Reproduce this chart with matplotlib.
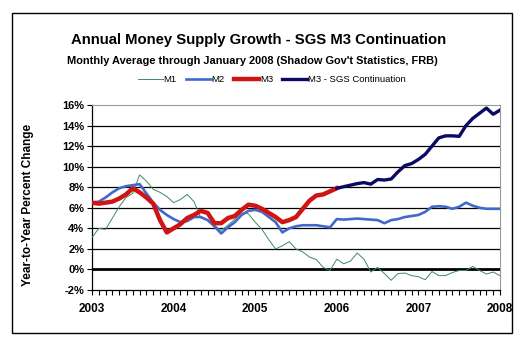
import numpy as np
import matplotlib.pyplot as plt
from matplotlib.patches import Rectangle
from matplotlib.ticker import FixedLocator, FuncFormatter

plt.rcParams['font.family'] = ['Liberation Sans', 'DejaVu Sans']

# monthly values, Jan 2003 .. Jan 2008
m1 = [3.1, 4.0, 3.9, 5.0, 6.1, 7.0, 7.4, 9.2, 8.6, 7.8, 7.5, 7.1,
      6.5, 6.8, 7.3, 6.6, 5.0, 4.8, 4.3, 3.8, 4.3, 4.9, 5.5, 5.4,
      4.6, 3.9, 2.9, 2.0, 2.3, 2.7, 2.0, 1.7, 1.2, 0.95, 0.2, -0.1,
      1.0, 0.55, 0.8, 1.6, 1.0, -0.25, 0.2, -0.4, -1.05, -0.4, -0.35, -0.6,
      -0.7, -1.0, -0.2, -0.6, -0.6, -0.3, -0.1, -0.1, 0.3, -0.1, -0.45, -0.25,
      -0.6]
m2 = [6.5, 6.6, 7.0, 7.5, 7.9, 8.1, 8.2, 8.3, 7.4, 6.5, 5.8, 5.3,
      4.9, 4.6, 4.7, 5.1, 5.1, 4.8, 4.2, 3.5, 4.1, 4.6, 5.3, 5.7,
      5.8, 5.6, 5.1, 4.6, 3.6, 4.0, 4.2, 4.3, 4.3, 4.3, 4.2, 4.1,
      4.9, 4.85, 4.9, 4.95, 4.9, 4.85, 4.8, 4.5, 4.8, 4.9, 5.1, 5.2,
      5.3, 5.6, 6.1, 6.15, 6.1, 5.9, 6.1, 6.5, 6.2, 6.0, 5.9, 5.9,
      5.9]
# official M3, Jan 2003 .. Jan 2006
m3 = [6.5, 6.4, 6.5, 6.6, 6.9, 7.3, 7.9, 7.5, 7.0, 6.4, 4.8, 3.6,
      4.0, 4.4, 5.0, 5.3, 5.7, 5.5, 4.5, 4.5, 5.0, 5.2, 5.8, 6.3,
      6.2, 5.9, 5.5, 5.1, 4.6, 4.8, 5.1, 5.9, 6.7, 7.2, 7.3, 7.6,
      7.9]
# SGS continuation, Jan 2006 .. Jan 2008
sgs = [7.9, 8.05, 8.2, 8.35, 8.45, 8.3, 8.75, 8.7, 8.8, 9.5, 10.1, 10.3,
       10.7, 11.2, 12.0, 12.8, 13.0, 13.0, 12.95, 14.0, 14.7, 15.2, 15.7, 15.1,
       15.5]
years = [2003, 2004, 2005, 2006, 2007, 2008]

t = 2003 + np.arange(len(m1)) / 12.0
t_sgs = 2006 + np.arange(len(sgs)) / 12.0

fig = plt.figure(figsize=(5.25, 3.46), dpi=100)
ax = fig.add_axes([92/525, 1-290/346, 408/525, 185/346])

for y in range(2, 16, 2):
    ax.axhline(y, color='black', lw=0.9, zorder=1)
ax.axhline(0, color='black', lw=2.0, zorder=1)

ax.plot(t, m1, color='#3E8A62', lw=0.7, label='M1', zorder=3)
ax.plot(t, m2, color='#4169CC', lw=1.9, label='M2', zorder=4)
ax.plot(t[:len(m3)], m3, color='#D01414', lw=3.2, label='M3', zorder=5)
ax.plot(t_sgs, sgs, color='#0A0A64', lw=2.4, label='M3 - SGS Continuation', zorder=5)

ax.set_xlim(2003, 2008)
ax.set_ylim(-2, 16)
ax.set_yticks(range(-2, 17, 2))
ax.yaxis.set_major_formatter(FuncFormatter(lambda v, p: '%d%%' % v))
ax.set_xticks(years)
ax.xaxis.set_minor_locator(FixedLocator(t))
ax.tick_params(axis='x', which='both', direction='out', length=3.5, width=0.8, pad=6)
ax.tick_params(axis='y', direction='out', length=3.5, width=0.8, pad=2)
for lab in ax.get_yticklabels():
    lab.set_fontsize(8)
    lab.set_fontweight('bold')
for lab in ax.get_xticklabels():
    lab.set_fontsize(8.5)
    lab.set_fontweight('bold')

ax.spines['top'].set_color('#999999')
ax.spines['right'].set_color('#999999')
ax.spines['left'].set_linewidth(0.9)
ax.spines['bottom'].set_linewidth(0.9)

ax.set_ylabel('Year-to-Year Percent Change', fontsize=8.5, fontweight='bold')
ax.yaxis.set_label_coords(-0.142, 0.46)

fig.text(0.493, 1-40/346, 'Annual Money Supply Growth - SGS M3 Continuation',
         ha='center', va='center', fontsize=10.7, fontweight='bold')
fig.text(0.4816, 1-61/346, "Monthly Average through January 2008 (Shadow Gov't Statistics, FRB)",
         ha='center', va='center', fontsize=7.9, fontweight='bold')
fig.legend(loc='center', bbox_to_anchor=(0.518, 1-80/346), ncol=4, frameon=False,
           fontsize=6.8, handlelength=2.6, handletextpad=0.1, columnspacing=1.0)

fig.add_artist(Rectangle((12/525, 1-333/346), 500/525, 320/346, transform=fig.transFigure,
                         fill=False, edgecolor='black', lw=1.0))

fig.savefig('out.png', dpi=100)
